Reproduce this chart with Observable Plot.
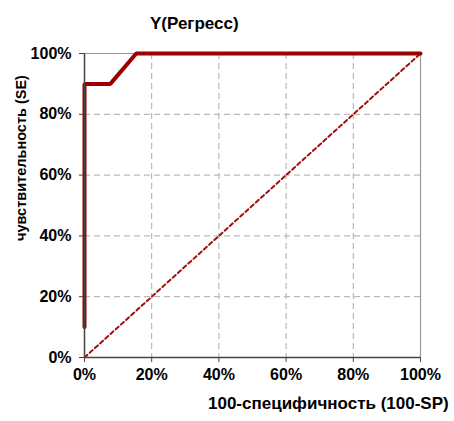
<!DOCTYPE html>
<html><head><meta charset="utf-8">
<script src="https://cdn.jsdelivr.net/npm/d3@7"></script>
<script src="https://cdn.jsdelivr.net/npm/@observablehq/plot@0.6"></script>
<style>
body{margin:0;background:#fff;font-family:"Liberation Sans",Arial,sans-serif;}
#wrap{position:relative;width:454px;height:421px;}
.t{position:absolute;font-weight:bold;color:#000;white-space:nowrap;}
</style></head><body>
<div id="wrap">
<div class="t" id="title" style="left:150px;top:14px;font-size:17px;"></div>
<div class="t" id="xl" style="left:208px;top:394px;font-size:17px;"></div>
<div class="t" id="yl" style="left:21px;top:158px;font-size:14.5px;transform:translate(-50%,-50%) rotate(-90deg);"></div>
</div>
<script>
const title = "Y(Регресс)";
const xLabel = "100-специфичность (100-SP)";
const yLabel = "чувствительность (SE)";
const fpr = [0, 0, 7.7, 15.4, 100];
const tpr = [10, 90, 90, 100, 100];
const diagX = [0, 100];
const diagY = [0, 100];
const ticks = [0, 20, 40, 60, 80, 100];
const gridTicks = [20, 40, 60, 80];
const tickLabels = ["0%", "20%", "40%", "60%", "80%", "100%"];

document.getElementById("title").textContent = title;
document.getElementById("xl").textContent = xLabel;
document.getElementById("yl").textContent = yLabel;

const roc = fpr.map((x, i) => ({x, y: tpr[i]}));
const diag = diagX.map((x, i) => ({x, y: diagY[i]}));
const fmt = d => tickLabels[ticks.indexOf(d)];

const chart = Plot.plot({
  width: 454, height: 421,
  marginLeft: 84, marginRight: 34, marginTop: 53, marginBottom: 64,
  style: {fontFamily: "Liberation Sans, Arial, sans-serif", fontSize: "16px", fontWeight: "bold", color: "#000", background: "#fff"},
  x: {domain: [0, 100]},
  y: {domain: [0, 100]},
  marks: [
    Plot.gridX(gridTicks, {stroke: "#aaa", strokeOpacity: 1, strokeDasharray: "6,4", strokeWidth: 1}),
    Plot.gridY(gridTicks, {stroke: "#aaa", strokeOpacity: 1, strokeDasharray: "6,4", strokeWidth: 1}),
    Plot.ruleY([100], {stroke: "#999", strokeWidth: 1.2}),
    Plot.ruleX([100], {stroke: "#999", strokeWidth: 1.2}),
    Plot.axisX(ticks, {tickFormat: fmt, tickSize: 5, tickPadding: 6, stroke: "#444", label: null, fontSize: 16, fontWeight: "bold"}),
    Plot.axisY(ticks, {tickFormat: fmt, tickSize: 5, tickPadding: 8, stroke: "#444", label: null, fontSize: 16, fontWeight: "bold"}),
    Plot.line(diag, {x: "x", y: "y", stroke: "#a01010", strokeWidth: 2, strokeDasharray: "4,3"}),
    Plot.line(roc, {x: "x", y: "y", stroke: "#990000", strokeWidth: 4, strokeLinejoin: "miter"}),
    Plot.ruleX([0], {stroke: "#444", strokeWidth: 1.5}),
    Plot.ruleY([0], {stroke: "#444", strokeWidth: 1.5})
  ]
});
const wrap = document.getElementById("wrap");
wrap.insertBefore(chart, wrap.firstChild);
chart.style.position = "absolute"; chart.style.left = "0"; chart.style.top = "0";
</script>
</body></html>
